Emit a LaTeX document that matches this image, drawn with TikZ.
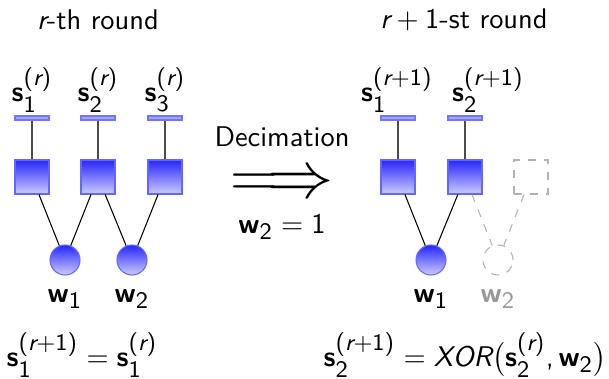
\documentclass[tikz,border=0pt]{standalone}
\usepackage{amsmath}
\usepackage{amssymb}
\renewcommand{\familydefault}{\sfdefault}
\usepackage[italic]{mathastext}
\usetikzlibrary{calc}

\tikzset{
  factor/.style={rectangle, minimum size=34*0.376pt, inner sep=0pt, draw=blue!60,
    top color=blue!85, bottom color=blue!20},
  var/.style={circle, minimum size=30*0.376pt, inner sep=0pt, draw=blue!60,
    top color=blue!85, bottom color=blue!20},
  bar/.style={rectangle, minimum width=34*0.376pt, minimum height=4*0.376pt, inner sep=0pt,
    draw=blue!55, fill=blue!35},
  gone/.style={draw=black!30, dashed},
  gonefactor/.style={rectangle, minimum size=34*0.376pt, inner sep=0pt, gone},
  gonevar/.style={circle, minimum size=30*0.376pt, inner sep=0pt, gone},
}

\begin{document}
\begin{tikzpicture}[x=0.376pt, y=-0.376pt, font=\fontsize{10.7}{13}\selectfont]
  \useasboundingbox (0,0) rectangle (609,379);
  % titles
  \node (T) at (98,20) {$r$-th round};
  \node (TT) at (464,20) {$r+1$-st round};
  % r-th round
  \node (S1) at (32,90) {$\mathbf{s}_1^{(r)}$};
  \node (S2) at (98,90) {$\mathbf{s}_2^{(r)}$};
  \node (S3) at (165,90) {$\mathbf{s}_3^{(r)}$};
  \node[bar] (B1) at (32,118) {};
  \node[bar] (B2) at (98,118) {};
  \node[bar] (B3) at (165,118) {};
  \node[factor] (F1) at (32,177) {};
  \node[factor] (F2) at (98,177) {};
  \node[factor] (F3) at (165,177) {};
  \node[var] (W1) at (65,260) {};
  \node[var] (W2) at (132,260) {};
  \node (L1) at (65,299) {$\mathbf{w}_1$};
  \node (L2) at (132,299) {$\mathbf{w}_2$};
  \path[draw=black!70]
  (B1) edge (F1)
  (B2) edge (F2)
  (B3) edge (F3);
  \path
  (F1) edge (W1)
  (F2) edge (W1)
  (F2) edge (W2)
  (F3) edge (W2);
  % decimation
  \node (D) at (282,137) {Decimation};
  \node[inner sep=0pt] (A) at (282,185) {\fontsize{26}{26}\selectfont$\Longrightarrow$};
  \node (C) at (282,227) {$\mathbf{w}_2=1$};
  % r+1-st round
  \node (SS1) at (397,90) {$\mathbf{s}_1^{(r+1)}$};
  \node (SS2) at (488,90) {$\mathbf{s}_2^{(r+1)}$};
  \node[bar] (BB1) at (398,118) {};
  \node[bar] (BB2) at (465,118) {};
  \node[factor] (FF1) at (398,177) {};
  \node[factor] (FF2) at (465,177) {};
  \node[gonefactor] (FF3) at (531,177) {};
  \node[var] (WW1) at (431,260) {};
  \node[gonevar] (WW2) at (498,260) {};
  \node (LL1) at (431,299) {$\mathbf{w}_1$};
  \node[text=black!40] (LL2) at (498,299) {$\mathbf{w}_2$};
  \path[draw=black!70]
  (BB1) edge (FF1)
  (BB2) edge (FF2);
  \path
  (FF1) edge (WW1)
  (FF2) edge (WW1)
  (FF2) edge[gone] (WW2)
  (FF3) edge[gone] (WW2);
  % update rules
  \node (E1) at (82,355) {$\mathbf{s}_1^{(r+1)}=\mathbf{s}_1^{(r)}$};
  \node (E2) at (465,355) {$\mathbf{s}_2^{(r+1)}=XOR\bigl(\mathbf{s}_2^{(r)},\mathbf{w}_2\bigr)$};
\end{tikzpicture}
\end{document}
